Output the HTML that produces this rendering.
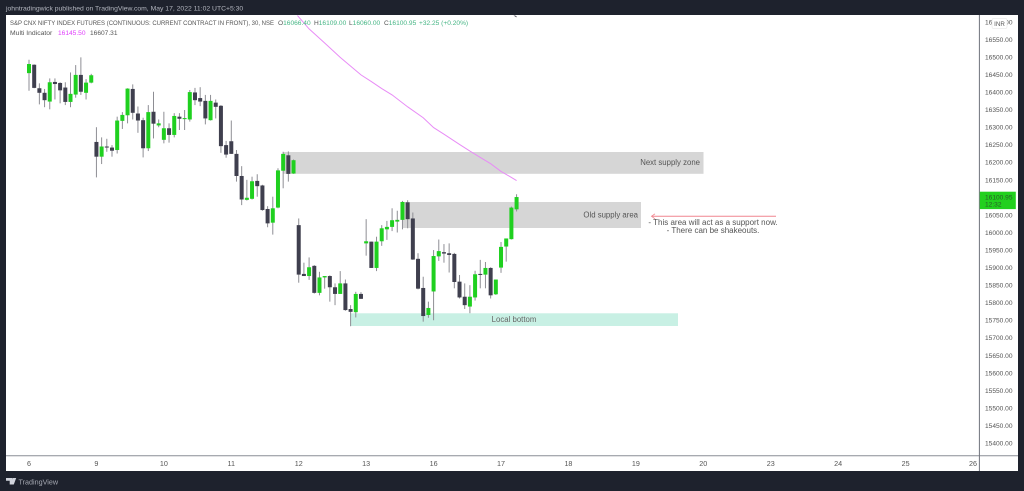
<!DOCTYPE html>
<html lang="en">
<head>
<meta charset="utf-8">
<title>NIFTY futures chart</title>
<style>
html,body{margin:0;padding:0;background:#1e222d;width:1024px;height:491px;overflow:hidden}
svg{display:block;font-family:"Liberation Sans",sans-serif}
</style>
</head>
<body>
<svg id="chart" xmlns="http://www.w3.org/2000/svg" width="1024" height="491" viewBox="0 0 1024 491">
  <rect x="0" y="0" width="1024" height="491" fill="#1e222d"/>
  <text x="6" y="10.5" font-size="6.8" fill="#b2b5be">johntradingwick published on TradingView.com, May 17, 2022 11:02 UTC+5:30</text>
  <rect x="6" y="15" width="1012" height="456" fill="#ffffff"/>
  <defs><clipPath id="plot-clip"><rect x="6" y="15.5" width="973" height="440"/></clipPath></defs>

  <rect x="283" y="152" width="420.5" height="21.8" fill="#d6d6d6"/>
  <text x="700" y="165" text-anchor="end" font-size="7.8" fill="#555">Next supply zone</text>
  <rect x="403" y="202" width="238" height="26" fill="#d6d6d6"/>
  <text x="638" y="217.5" text-anchor="end" font-size="7.8" fill="#555">Old supply area</text>
  <rect x="351" y="313.3" width="327" height="12.7" fill="#c8f0e4"/>
  <text x="514" y="322" text-anchor="middle" font-size="7.8" fill="#666">Local bottom</text>

  <g id="candles" clip-path="url(#plot-clip)"></g>
  <g id="averages" clip-path="url(#plot-clip)"></g>

  <g stroke="#f0868f" fill="none">
    <line x1="776" y1="216.3" x2="651.5" y2="216.3" stroke-width="1"/>
    <polyline points="655,213.8 651.5,216.3 655,218.8" stroke-width="0.8"/>
  </g>
  <text x="713" y="225" text-anchor="middle" font-size="8" fill="#555">- This area will act as a support now.</text>
  <text x="713" y="233" text-anchor="middle" font-size="8" fill="#555">- There can be shakeouts.</text>

  <text x="10" y="25" font-size="6.6" fill="#555" textLength="264" lengthAdjust="spacingAndGlyphs">S&amp;P CNX NIFTY INDEX FUTURES (CONTINUOUS: CURRENT CONTRACT IN FRONT), 30, NSE</text>
  <text x="278" y="25" font-size="6.6" fill="#555">O<tspan fill="#45b584">16066.40</tspan></text>
  <text x="314" y="25" font-size="6.6" fill="#555">H<tspan fill="#45b584">16109.00</tspan></text>
  <text x="349" y="25" font-size="6.6" fill="#555">L<tspan fill="#45b584">16060.00</tspan></text>
  <text x="384" y="25" font-size="6.6" fill="#555">C<tspan fill="#45b584">16100.95</tspan></text>
  <text x="419" y="25" font-size="6.6" fill="#45b584">+32.25 (+0.20%)</text>
  <text x="10" y="35" font-size="6.8" fill="#555">Multi Indicator</text>
  <text x="58" y="35" font-size="6.6" fill="#e040fb">16145.50</text>
  <text x="90" y="35" font-size="6.6" fill="#555">16607.31</text>

  <line x1="6" y1="455.7" x2="1018" y2="455.7" stroke="#8a8d96" stroke-width="1"/>
  <line x1="979.4" y1="15" x2="979.4" y2="471" stroke="#70737c" stroke-width="1"/>
  <g id="price-axis"></g>
  <g id="time-axis"></g>

  <rect x="992" y="18.5" width="15" height="10" rx="1.5" fill="#ffffff" stroke="#e0e0e0" stroke-width="0.5"/>
  <text x="999.5" y="26" text-anchor="middle" font-size="6.2" fill="#555">INR</text>
  <rect x="979.8" y="191.7" width="36" height="17.4" fill="#22d01e"/>
  <text x="985" y="199.5" font-size="6.6" fill="#2a5a2a">16100.95</text>
  <text x="985" y="206.5" font-size="6.6" fill="#2a5a2a">12:32</text>

  <g>
    <path d="M6 478h6.5v6.5h-2.8v-3.8H6z M12.8 478h3.4l-2.4 6.5h-2.2z" fill="#d1d4dc"/>
    <text x="18.5" y="484.5" font-size="7.2" fill="#a6a9b2">TradingView</text>
  </g>
</svg>
<script>
const opens = [16454,16478,16411,16398,16373,16429,16426,16413,16372,16393,16449,16398,16427,
16258,16216,16245,16242,16235,16318,16334,16409,16339,16320,16240,16344,16305,
16264,16297,16278,16330,16323,16322,16399,16383,16375,16320,16370,16361,16249,
16260,16224,16161,16093,16096,16147,16134,16067,16028,16071,16176,16220,16168,
16021,15882,15876,15905,15828,15872,15876,15844,15825,15855,15782,15773,15825,
15969,15974,15899,15975,16009,16016,16031,16036,16086,16040,15925,15842,15765,
15832,15932,15944,15941,15939,15860,15817,15789,15815,15882,15880,15899,15824,
15900,15960,15981,16066];
const highs = [16492,16479,16425,16409,16439,16439,16428,16428,16456,16477,16499,16437,16452,
16300,16271,16267,16249,16330,16343,16411,16422,16359,16327,16363,16401,16322,
16344,16311,16340,16340,16349,16406,16412,16414,16392,16392,16379,16363,16261,
16319,16235,16189,16150,16159,16166,16136,16075,16102,16183,16230,16231,16208,
16040,15914,15929,15907,15888,15876,15878,15855,15890,15866,15793,15831,15830,
16038,15974,15988,16021,16033,16069,16062,16090,16092,16057,15941,15874,15803,
15950,15980,15967,15969,15942,15879,15855,15850,15891,15922,15916,15901,15866,
15973,15983,16074,16109];
const lows = [16404,16411,16365,16357,16351,16379,16368,16363,16357,16384,16392,16379,16425,
16157,16195,16230,16216,16225,16295,16311,16322,16284,16214,16232,16268,16300,
16254,16256,16271,16292,16292,16316,16363,16360,16308,16319,16325,16227,16213,
16224,16145,16078,16091,16094,16102,16062,16015,15994,16069,16126,16145,16167,
15857,15876,15865,15826,15821,15840,15803,15793,15825,15777,15733,15758,15811,
15934,15899,15890,15962,15979,16004,16000,16009,16012,15922,15838,15746,15757,
15750,15919,15914,15886,15841,15812,15782,15770,15806,15841,15841,15812,15822,
15885,15917,15980,16060];
const closes = [16480,16412,16398,16377,16428,16423,16405,16372,16395,16449,16401,16427,16448,
16216,16245,16242,16233,16319,16335,16410,16341,16319,16240,16343,16310,16311,
16297,16278,16332,16324,16326,16400,16377,16373,16325,16375,16358,16246,16222,
16224,16161,16094,16099,16146,16132,16064,16026,16069,16177,16224,16167,16206,
15880,15876,15901,15828,15872,15876,15844,15825,15855,15779,15774,15825,15811,
15975,15899,15974,16012,16016,16035,16036,16087,16038,15923,15840,15762,15785,
15933,15947,15940,15936,15859,15815,15793,15817,15881,15879,15899,15821,15866,
15959,15983,16071,16101];

const maIndex = [51,54,57,60,62,64,66,68,70,73,76,78,80,83,85,87,89,91,93,94];
const maValues = [16631,16580,16540,16499,16474,16449,16430,16410,16392,16358,16327,16299,16280,16251,16232,16214,16196,16174,16157,16148];
const slowIndex = [92,93,94];
const slowValues = [16640,16624,16614];

const priceTicks = [16600,16550,16500,16450,16400,16350,16300,16250,16200,16150,16050,16000,15950,15900,15850,15800,15750,15700,15650,15600,15550,15500,15450,15400];
const dayLabels = ["6","9","10","11","12","13","16","17","18","19","20","23","24","25","26"];

const SVGNS = "http://www.w3.org/2000/svg";
const BARS_PER_DAY = 13;
function xScale(i){ return 29 + i * 5.187; }
function yScale(p){ return 57 + (16500 - p) * 0.351; }

const candleLayer = document.getElementById("candles");
opens.forEach(function(open, i){
  const close = closes[i];
  const up = close >= open;
  const cx = xScale(i);
  const wick = document.createElementNS(SVGNS, "line");
  
  
  wick.setAttribute("x1", cx);
  wick.setAttribute("x2", cx);
  wick.setAttribute("y1", yScale(highs[i]));
  wick.setAttribute("y2", yScale(lows[i]));
  wick.setAttribute("stroke", "#8e8e94");
  wick.setAttribute("stroke-width", "1");
  candleLayer.appendChild(wick);
  const body = document.createElementNS(SVGNS, "rect");
  
  
  const top = yScale(Math.max(open, close));
  const bottom = yScale(Math.min(open, close));
  body.setAttribute("x", cx - 2);
  body.setAttribute("y", top);
  body.setAttribute("width", 4);
  body.setAttribute("height", Math.max(1, bottom - top));
  body.setAttribute("fill", up ? "#1fd01f" : "#3f3f4e");
  candleLayer.appendChild(body);
});

function linePoints(indexes, values){
  return indexes.map(function(idx, k){ return xScale(idx) + "," + yScale(values[k]); }).join(" ");
}
const averageLayer = document.getElementById("averages");
const maLine = document.createElementNS(SVGNS, "polyline");


maLine.setAttribute("points", linePoints(maIndex, maValues));
maLine.setAttribute("fill", "none");
maLine.setAttribute("stroke", "#e88cf6");
maLine.setAttribute("stroke-width", "1");
averageLayer.appendChild(maLine);
const slowLine = document.createElementNS(SVGNS, "polyline");


slowLine.setAttribute("points", linePoints(slowIndex, slowValues));
slowLine.setAttribute("fill", "none");
slowLine.setAttribute("stroke", "#555560");
slowLine.setAttribute("stroke-width", "1");
averageLayer.appendChild(slowLine);

const priceAxis = document.getElementById("price-axis");
priceTicks.forEach(function(p){
  const t = document.createElementNS(SVGNS, "text");
  
  
  t.setAttribute("x", 985);
  t.setAttribute("y", yScale(p) + 2.4);
  t.setAttribute("font-size", "6.6");
  t.setAttribute("fill", "#555");
  t.textContent = p.toFixed(2);
  priceAxis.appendChild(t);
});

const timeAxis = document.getElementById("time-axis");
dayLabels.forEach(function(label, k){
  const t = document.createElementNS(SVGNS, "text");
  
  
  t.setAttribute("x", xScale(k * BARS_PER_DAY));
  t.setAttribute("y", 466);
  t.setAttribute("text-anchor", "middle");
  t.setAttribute("font-size", "7.2");
  t.setAttribute("fill", "#555");
  t.textContent = label;
  timeAxis.appendChild(t);
});
</script>
</body>
</html>
